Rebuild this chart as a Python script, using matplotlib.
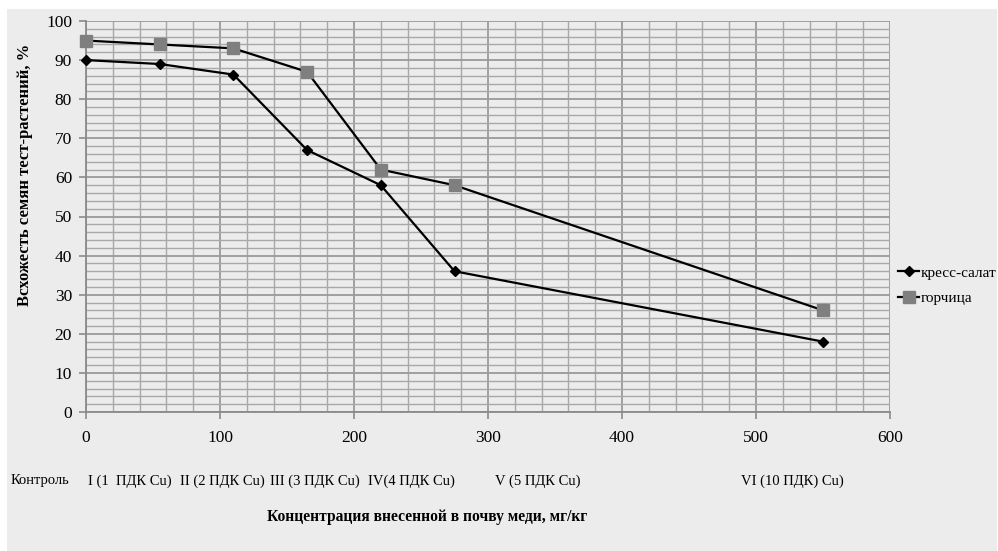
import numpy as np
from matplotlib import pyplot as plt
from matplotlib.patches import Rectangle
from matplotlib.ticker import MultipleLocator

# data
doses = [0, 55, 110, 165, 220, 275, 550]
cress = [90, 89, 86.3, 67, 58, 36, 18]
mustard = [95, 94, 93, 87, 62, 58, 26]
series_names = ["кресс-салат", "горчица"]

group_labels = ["Контроль", "I (1  ПДК Cu)", "II (2 ПДК Cu)", "III (3 ПДК Cu)",
                "IV(4 ПДК Cu)", "V (5 ПДК Cu)", "VI (10 ПДК) Cu)"]
group_label_x = [-34, 33, 102, 171, 243, 337, 527]

x_title = "Концентрация внесенной в почву меди, мг/кг"
y_title = "Всхожесть семян тест-растений, %"

bg = "#ececec"
grid_col = "#a8a8a8"
serif = ["Liberation Serif", "DejaVu Serif"]

plt.rcParams['font.family'] = serif

fig = plt.figure(figsize=(9.98, 5.51), dpi=100)
fig.patch.set_facecolor("white")
fig.patches.append(Rectangle((7/998, 0), 990/998, 1 - 9/551, transform=fig.transFigure,
                             facecolor=bg, edgecolor="none", zorder=-10))

ax = fig.add_axes([86/998, 1 - 412/551, 804/998, 391/551])
ax.set_facecolor(bg)

ax.plot(doses, cress, color="black", lw=1.6, marker="D", markersize=5.5,
        markerfacecolor="black", markeredgecolor="black", label=series_names[0],
        zorder=4, clip_on=False)
ax.plot(doses, mustard, color="black", lw=1.6, marker="s", markersize=8,
        markerfacecolor="#7f7f7f", markeredgecolor="#7f7f7f", label=series_names[1],
        zorder=3, clip_on=False)

ax.set_xlim(0, 600)
ax.set_ylim(0, 100)
ax.xaxis.set_major_locator(MultipleLocator(100))
ax.xaxis.set_minor_locator(MultipleLocator(20))
ax.yaxis.set_major_locator(MultipleLocator(10))
ax.yaxis.set_minor_locator(MultipleLocator(2))

ax.grid(True, which="major", color="#9a9a9a", lw=1.3)
ax.grid(True, which="minor", color=grid_col, lw=1.0)
ax.set_axisbelow(True)

for s in ["top", "right"]:
    ax.spines[s].set_visible(False)
for s in ["left", "bottom"]:
    ax.spines[s].set_color("#8a8a8a")
    ax.spines[s].set_linewidth(1.3)

ax.tick_params(which="major", direction="out", length=5, width=1.2, color="#8a8a8a",
               labelsize=12.5, pad=5)
ax.tick_params(which="minor", length=0)
ax.tick_params(axis="x", pad=8)

# group labels under x axis
for lbl, gx in zip(group_labels, group_label_x):
    ax.text(gx, -17.6, lbl, ha="center", va="center", fontsize=10.5,
            transform=ax.transData, clip_on=False)

fig.text(427/998, 1 - 517/551, x_title, ha="center", va="center",
         fontsize=11.2, fontweight="bold")
fig.text(25/998, 1 - 175/551, y_title, ha="center", va="center",
         rotation=90, fontsize=12, fontweight="bold")

leg = ax.legend(loc="center left", bbox_to_anchor=(1.01, 0.3235), frameon=False,
                fontsize=11, handlelength=1.4, handletextpad=0.1, labelspacing=0.75,
                borderaxespad=0, borderpad=0)

fig.savefig("out.png", dpi=100, facecolor=fig.get_facecolor())
